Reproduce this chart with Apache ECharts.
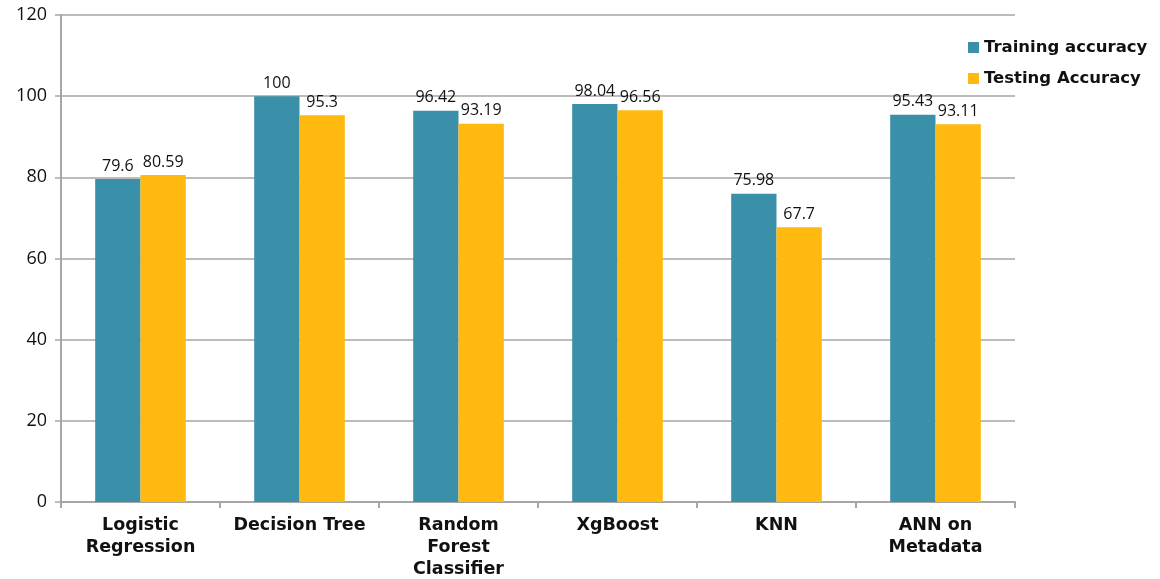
<!DOCTYPE html>
<html>
<head>
<meta charset="utf-8">
<script src="https://cdn.jsdelivr.net/npm/echarts@6/dist/echarts.min.js"></script>
<style>
  html, body { margin: 0; padding: 0; background: #fff; }
  #chart { width: 1160px; height: 579px; }
</style>
</head>
<body>
<div id="chart"></div>
<script>
const categories = ['Logistic\nRegression', 'Decision Tree', 'Random\nForest\nClassifier', 'XgBoost', 'KNN', 'ANN on\nMetadata'];
const trainingAcc = [79.6, 100, 96.42, 98.04, 75.98, 95.43];
const testingAcc = [80.59, 95.3, 93.19, 96.56, 67.7, 93.11];

const FONT = '"Open Sans", sans-serif';
const BOLD_FONT = '"DejaVu Sans", sans-serif';
const axisGrey = '#a6a6a6';

const chart = echarts.init(document.getElementById('chart'));

chart.setOption({
  animation: false,
  textStyle: { fontFamily: FONT },
  grid: { left: 61, right: 145, top: 15, bottom: 77, outerBoundsMode: 'none' },
  legend: {
    orient: 'vertical',
    left: 963,
    top: 34,
    itemWidth: 11,
    itemHeight: 11,
    itemGap: 14,
    icon: 'rect',
    textStyle: { fontFamily: BOLD_FONT, fontSize: 16.5, fontWeight: 'bold', color: '#111' },
    data: ['Training accuracy', 'Testing Accuracy']
  },
  xAxis: {
    type: 'category',
    data: categories,
    axisLine: { lineStyle: { color: axisGrey, width: 2 } },
    axisTick: { show: true, length: 6, lineStyle: { color: axisGrey, width: 2 } },
    axisLabel: {
      fontFamily: BOLD_FONT, fontSize: 17.5, fontWeight: 'bold', color: '#111',
      lineHeight: 22, margin: 12, interval: 0
    }
  },
  yAxis: {
    type: 'value',
    min: 0,
    max: 120,
    interval: 20,
    axisLine: { show: true, lineStyle: { color: axisGrey, width: 2 } },
    axisTick: { show: true, length: 6, lineStyle: { color: axisGrey, width: 1.5 } },
    splitLine: { lineStyle: { color: axisGrey, width: 1.5 } },
    axisLabel: { fontFamily: FONT, fontSize: 18, color: '#111', margin: 14 }
  },
  series: [
    {
      name: 'Training accuracy',
      type: 'bar',
      data: trainingAcc,
      barGap: '0%',
      barCategoryGap: '43%',
      itemStyle: { color: '#3a90a8' },
      label: { show: true, position: 'top', distance: 5, fontFamily: FONT, fontSize: 16, color: '#111' }
    },
    {
      name: 'Testing Accuracy',
      type: 'bar',
      data: testingAcc,
      barGap: '0%',
      barCategoryGap: '43%',
      itemStyle: { color: '#ffb90f' },
      label: { show: true, position: 'top', distance: 5, fontFamily: FONT, fontSize: 16, color: '#111' }
    }
  ]
});
</script>
</body>
</html>
